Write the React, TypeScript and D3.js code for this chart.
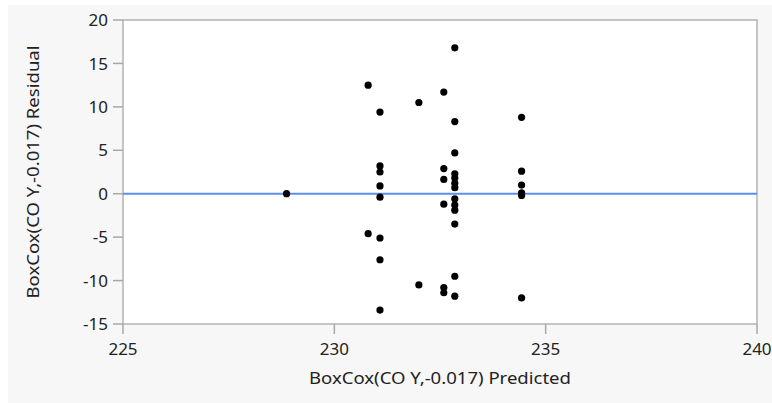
import * as React from 'react'
import * as d3 from 'd3'

const predicted = [
  228.87,
  230.8, 230.8,
  231.08, 231.08, 231.08, 231.08, 231.08, 231.08, 231.08, 231.08,
  232.0, 232.0,
  232.59, 232.59, 232.59, 232.59, 232.59, 232.59,
  232.85, 232.85, 232.85, 232.85, 232.85, 232.85, 232.85, 232.85, 232.85, 232.85, 232.85, 232.85, 232.85,
  234.43, 234.43, 234.43, 234.43, 234.43, 234.43,
]
const residual = [
  0,
  12.5, -4.6,
  9.4, 3.2, 2.5, 0.9, -0.4, -5.1, -7.6, -13.4,
  10.5, -10.5,
  11.7, 2.9, 1.65, -1.2, -10.8, -11.4,
  16.8, 8.3, 4.7, 2.3, 1.8, 1.2, 0.7, -0.6, -1.3, -1.9, -3.5, -9.5, -11.8,
  8.8, 2.6, 1.0, 0.1, -0.2, -12.0,
]
const xTicks = [225, 230, 235, 240]
const yTicks = [20, 15, 10, 5, 0, -5, -10, -15]

const W = 772
const H = 403
const left = 123
const right = 757
const top = 20
const bottom = 324
const font = '"Noto Sans", "Open Sans", sans-serif'

export default function App() {
  const ref = React.useRef<SVGSVGElement>(null)

  React.useEffect(() => {
    const svg = d3.select(ref.current)
    svg.selectAll('*').remove()

    const x = d3.scaleLinear().domain([225, 240]).range([left, right])
    const y = d3.scaleLinear().domain([-15, 20]).range([bottom, top])

    svg.append('rect').attr('x', 8).attr('y', 5).attr('width', W - 8).attr('height', H - 5).attr('fill', '#f7f7f7')
    svg.append('rect').attr('x', left).attr('y', top).attr('width', right - left).attr('height', bottom - top)
      .attr('fill', '#ffffff').attr('stroke', '#b4b4b4').attr('stroke-width', 1.5)

    const yAxis = svg.append('g')
    yAxis.selectAll('line').data(yTicks).enter().append('line')
      .attr('x1', left - 10).attr('x2', left).attr('y1', (d) => y(d)).attr('y2', (d) => y(d))
      .attr('stroke', '#a8a8a8').attr('stroke-width', 1.5)
    yAxis.selectAll('text').data(yTicks).enter().append('text')
      .attr('x', left - 15).attr('y', (d) => y(d)).attr('dy', '0.36em')
      .attr('text-anchor', 'end').attr('font-family', font).attr('font-size', 17).attr('fill', '#222')
      .text((d) => d)

    const xAxis = svg.append('g')
    xAxis.selectAll('line').data(xTicks).enter().append('line')
      .attr('x1', (d) => x(d)).attr('x2', (d) => x(d)).attr('y1', bottom).attr('y2', bottom + 10)
      .attr('stroke', '#a8a8a8').attr('stroke-width', 1.5)
    xAxis.selectAll('text').data(xTicks).enter().append('text')
      .attr('x', (d) => x(d)).attr('y', bottom + 31)
      .attr('text-anchor', 'middle').attr('font-family', font).attr('font-size', 17).attr('fill', '#222')
      .text((d) => d)

    svg.append('line')
      .attr('x1', left).attr('x2', right).attr('y1', y(0)).attr('y2', y(0))
      .attr('stroke', '#5b8ef0').attr('stroke-width', 2)

    svg.append('g').selectAll('circle').data(predicted).enter().append('circle')
      .attr('cx', (d) => x(d)).attr('cy', (d, i) => y(residual[i])).attr('r', 3.6).attr('fill', '#000')

    svg.append('text').attr('x', 440).attr('y', 384)
      .attr('text-anchor', 'middle').attr('font-family', font).attr('font-size', 16).attr('fill', '#222')
      .attr('textLength', 262).attr('lengthAdjust', 'spacingAndGlyphs')
      .text('BoxCox(CO Y,-0.017) Predicted')
    svg.append('text')
      .attr('transform', `translate(39,${(top + bottom) / 2}) rotate(-90)`)
      .attr('text-anchor', 'middle').attr('font-family', font).attr('font-size', 16).attr('fill', '#222')
      .attr('textLength', 253).attr('lengthAdjust', 'spacingAndGlyphs')
      .text('BoxCox(CO Y,-0.017) Residual')
  }, [])

  return (
    <div style={{ position: 'absolute', left: 0, top: 0 }}>
      <svg ref={ref} width={W} height={H} />
    </div>
  )
}
